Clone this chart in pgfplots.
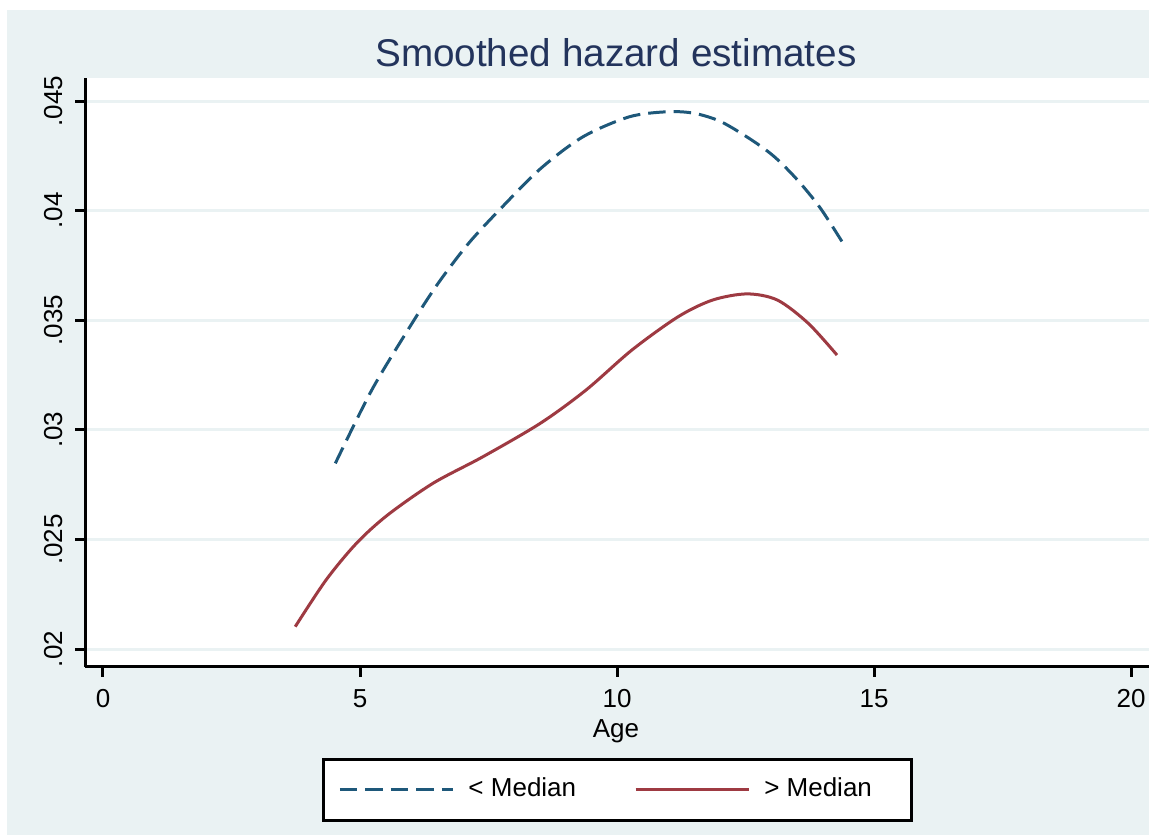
\documentclass[border=0pt]{standalone}
\usepackage{fontspec}
\setmainfont{Liberation Sans}
\usepackage{pgfplots}
\pgfplotsset{compat=1.18}
\definecolor{bgcol}{RGB}{234,242,243}
\definecolor{navyline}{RGB}{30,88,122}
\definecolor{maroonline}{RGB}{158,58,66}
\definecolor{titlecol}{RGB}{35,52,92}
\begin{document}
\begin{tikzpicture}
\useasboundingbox (0,0) rectangle (11.49,8.35);
\fill[bgcol] (0.07,0) rectangle (11.49,8.25);
\begin{axis}[
 at={(0.85cm,1.68cm)}, anchor=south west,
 scale only axis, width=10.64cm, height=5.89cm,
 xmin=-0.35, xmax=20.35, ymin=0.01918, ymax=0.04605,
 axis x line=bottom, axis y line=left,
 axis line style={line width=0.3mm, -},
 axis background/.style={fill=white},
 tick align=outside, major tick length=1mm,
 every tick/.style={black, line width=0.3mm},
 xtick={0,5,10,15,20},
 ytick={0.02,0.025,0.03,0.035,0.04,0.045},
 yticklabels={.02,.025,.03,.035,.04,.045},
 scaled y ticks=false,
 ymajorgrids, grid style={bgcol, line width=0.3mm},
 tick label style={font=\fontsize{7.4}{9}\selectfont},
 /pgf/number format/assume math mode=true,
 yticklabel style={rotate=90, anchor=south, inner ysep=1.2mm},
 xlabel={Age},
 xlabel style={at={(axis description cs:0.499,0)}, anchor=base, yshift=-7.1mm, font=\fontsize{7.4}{9}\selectfont},
 title={Smoothed hazard estimates},
 every axis title/.style={at={(axis description cs:0.499,1)}, anchor=base, yshift=1.13mm, font=\fontsize{11}{13}\selectfont, text=titlecol},
 legend columns=2,
 legend style={at={(axis description cs:0.2227,-0.2088)}, anchor=west, draw=black, line width=0.3mm, fill=white,
   inner xsep=1.5mm, inner ysep=1.1mm, font=\fontsize{7.4}{9}\selectfont,
   /tikz/every even column/.append style={column sep=5.1mm},
   /tikz/every odd column/.append style={column sep=0.7mm}},
 legend image code/.code={\draw[#1] (0cm,0cm) -- (1.13cm,0cm);},
]
\addplot[navyline, line width=0.3mm, dash pattern=on 1.75mm off 0.8mm, smooth] table {
x y
4.52 0.02847
5.23 0.03182
5.97 0.03470
6.51 0.03665
7.11 0.03850
7.74 0.04010
8.52 0.04193
9.34 0.04337
10.24 0.04428
10.98 0.04451
11.50 0.04444
12.02 0.04406
12.62 0.04322
13.06 0.04246
13.51 0.04140
13.96 0.04010
14.44 0.03835
};
\addlegendentry{< Median}
\addplot[maroonline, line width=0.3mm, smooth] table {
x y
3.74 0.02102
4.34 0.02315
4.93 0.02482
5.53 0.02610
6.42 0.02756
7.39 0.02877
8.51 0.03030
9.40 0.03182
10.29 0.03364
11.19 0.03516
11.86 0.03592
12.53 0.03620
13.12 0.03592
13.72 0.03486
14.28 0.03341
};
\addlegendentry{> Median\rule{1.7mm}{0pt}}
\end{axis}
\end{tikzpicture}
\end{document}
